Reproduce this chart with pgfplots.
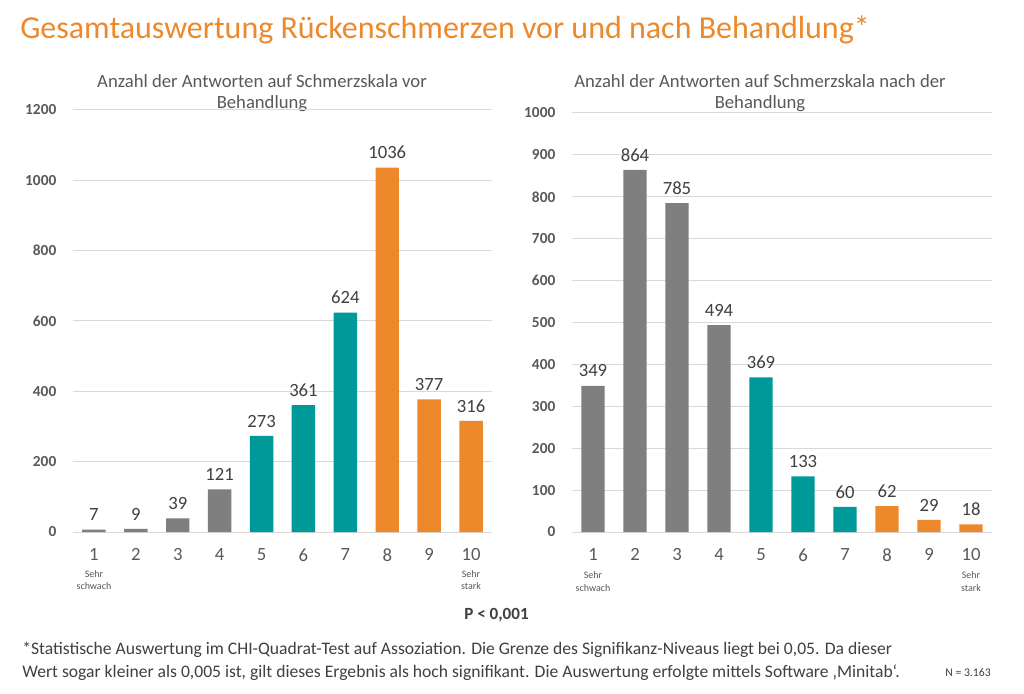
\documentclass[border=0pt]{standalone}
\usepackage{pgfplots}
\pgfplotsset{compat=1.18}
\usepackage{fontspec}
\setmainfont{Carlito}
\definecolor{cgray}{RGB}{127,127,127}
\definecolor{cteal}{RGB}{0,153,153}
\definecolor{corange}{RGB}{237,137,43}
\definecolor{ctext}{RGB}{89,89,89}
\definecolor{clabel}{RGB}{64,64,64}
\definecolor{cgrid}{RGB}{217,217,217}
\pgfplotsset{
 base/.style={
  scale only axis, anchor=south west,
  ybar,
  xmin=0.5, xmax=10.5, ymin=0,
  xtick={1,...,10},
  axis line style={draw=none},
  ymajorgrids, grid style={draw=cgrid, line width=0.75pt},
  major tick length=0pt,
  tick style={draw=none},
  yticklabel style={font=\bfseries\fontsize{11.5}{13}\selectfont, text=ctext, xshift=-9pt},
  xticklabel style={font=\fontsize{14}{16}\selectfont, text=ctext, yshift=-9pt},
  /pgf/number format/1000 sep={},
  /pgf/number format/assume math mode=true,
  nodes near coords,
  every node near coord/.append style={font=\fontsize{14}{16}\selectfont, text=clabel, yshift=3pt},
  clip=false,
 },
 bb/.style={draw=none, bar width=17.6pt, bar shift=0pt},
}
\begin{document}
\begin{tikzpicture}[x=0.75pt,y=0.75pt]
\path[use as bounding box, fill=white] (0,0) rectangle (1024,693);
% main title
\node[anchor=west, font=\fontsize{24}{28}\selectfont, text=corange, inner sep=0pt] at (20,663) {Gesamtauswertung Rückenschmerzen vor und nach Behandlung*};
% chart titles
\node[align=center, font=\fontsize{14}{15.75}\selectfont, text=ctext, inner sep=0pt] at (262,600) {Anzahl der Antworten auf Schmerzskala vor\\Behandlung};
\node[align=center, font=\fontsize{14}{15.75}\selectfont, text=ctext, inner sep=0pt] at (760,600) {Anzahl der Antworten auf Schmerzskala nach der\\Behandlung};
% left axis
\begin{axis}[base, at={(54.75pt,120.75pt)}, width=314.25pt, height=316.5pt, ymax=1200, ytick={0,200,...,1200}]
\addplot[bb, fill=cgray] coordinates {(1,7) (2,9) (3,39) (4,121)};
\addplot[bb, fill=cteal] coordinates {(5,273) (6,361) (7,624)};
\addplot[bb, fill=corange] coordinates {(8,1036) (9,377) (10,316)};
\node[anchor=north, align=center, font=\fontsize{7.5}{9.5}\selectfont, text=ctext, inner sep=0pt] at (axis cs:1,0) [yshift=-28.5pt] {Sehr\\schwach};
\node[anchor=north, align=center, font=\fontsize{7.5}{9.5}\selectfont, text=ctext, inner sep=0pt] at (axis cs:10,0) [yshift=-28.5pt] {Sehr\\stark};
\end{axis}
% right axis
\begin{axis}[base, at={(429pt,120.75pt)}, width=315pt, height=314.25pt, ymax=1000, ytick={0,100,...,1000}]
\addplot[bb, fill=cgray] coordinates {(1,349) (2,864) (3,785) (4,494)};
\addplot[bb, fill=cteal] coordinates {(5,369) (6,133) (7,60)};
\addplot[bb, fill=corange] coordinates {(8,62) (9,29) (10,18)};
\node[anchor=north, align=center, font=\fontsize{7.5}{9.5}\selectfont, text=ctext, inner sep=0pt] at (axis cs:1,0) [yshift=-29.5pt] {Sehr\\schwach};
\node[anchor=north, align=center, font=\fontsize{7.5}{9.5}\selectfont, text=ctext, inner sep=0pt] at (axis cs:10,0) [yshift=-29.5pt] {Sehr\\stark};
\end{axis}
% footer
\node[font=\bfseries\fontsize{12.8}{14}\selectfont, text=clabel, inner sep=0pt] at (496.5,78) {P < 0,001};
\node[anchor=west, font=\fontsize{13.2}{15}\selectfont, text=clabel, inner sep=0pt] at (22,43) {*Statistische Auswertung im CHI-Quadrat-Test auf Assoziation. Die Grenze des Signifikanz-Niveaus liegt bei 0,05. Da dieser};
\node[anchor=west, font=\fontsize{13.2}{15}\selectfont, text=clabel, inner sep=0pt] at (22,20) {Wert sogar kleiner als 0,005 ist, gilt dieses Ergebnis als hoch signifikant. Die Auswertung erfolgte mittels Software ‚Minitab‘.};
\node[anchor=west, font=\fontsize{8.8}{10}\selectfont, text=clabel, inner sep=0pt] at (945,20) {N = 3.163};
\end{tikzpicture}
\end{document}
